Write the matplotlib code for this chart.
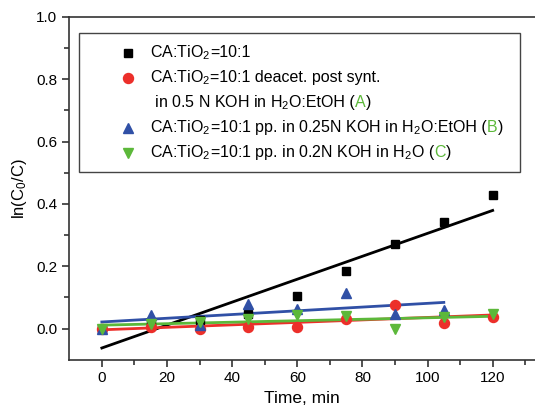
import matplotlib
matplotlib.use("Agg")
import matplotlib.pyplot as plt
import numpy as np
from matplotlib.lines import Line2D
from matplotlib.offsetbox import AnchoredOffsetbox, DrawingArea, HPacker, TextArea, VPacker

plt.rcParams["font.family"] = ["Liberation Sans", "DejaVu Sans"]
plt.rcParams["mathtext.fontset"] = "custom"
plt.rcParams["mathtext.rm"] = "Liberation Sans"
plt.rcParams["mathtext.it"] = "Liberation Sans:italic"
plt.rcParams["mathtext.default"] = "rm"

# data
time_min = [0, 15, 30, 45, 60, 75, 90, 105, 120]
ln_ref = [0.0, 0.02, 0.026, 0.048, 0.103, 0.185, 0.27, 0.342, 0.43]
ln_deacet = [0.0, 0.006, -0.001, 0.006, 0.006, 0.03, 0.077, 0.017, 0.036]
time_b = [0, 15, 30, 45, 60, 75, 90, 105]
ln_pp_b = [0.0, 0.042, 0.01, 0.08, 0.064, 0.114, 0.048, 0.061]
ln_pp_c = [0.0, 0.013, 0.02, 0.032, 0.042, 0.039, -0.003, 0.037, 0.045]

BLACK = "black"
RED = "#ec2f2a"
BLUE = "#3050a6"
GREEN = "#5cb83a"
FS = 11.5
MS = {"s": 6.3, "o": 7.2, "^": 7.5, "v": 7.5}

series = [
    (time_min, ln_ref, "s", BLACK),
    (time_min, ln_deacet, "o", RED),
    (time_b, ln_pp_b, "^", BLUE),
    (time_min, ln_pp_c, "v", GREEN),
]

fig = plt.figure(figsize=(5.35, 4.12), dpi=100)
ax = fig.add_axes([0.1295, 0.127, 0.8705, 0.832])

for x, y, marker, color in series:
    x = np.asarray(x, dtype=float)
    y = np.asarray(y, dtype=float)
    ax.plot(x, y, marker, color=color, ms=MS[marker], mec=color, mfc=color, zorder=3)
    slope, intercept = np.polyfit(x, y, 1)
    ax.plot([x[0], x[-1]], [intercept + slope * x[0], intercept + slope * x[-1]],
            "-", color=color, lw=2.0, zorder=2)

ax.set_xlim(-10, 133)
ax.set_ylim(-0.1, 1.0)
ax.set_xticks(np.arange(0, 121, 20))
ax.set_xticks(np.arange(10, 131, 20), minor=True)
ax.set_yticks(np.arange(0, 1.01, 0.2))
ax.set_yticks(np.arange(0.1, 1.0, 0.2), minor=True)
ax.set_yticklabels([f"{v:.1f}" for v in np.arange(0, 1.01, 0.2)])
ax.spines["right"].set_visible(False)
for s in ["left", "bottom", "top"]:
    ax.spines[s].set_linewidth(1.2)
    ax.spines[s].set_color("#333333")
ax.tick_params(which="major", direction="out", length=5, width=1.2,
               labelsize=11, color="#333333")
ax.tick_params(which="minor", direction="out", length=3.5, width=1.2, color="#333333")
ax.tick_params(top=False, right=False)
ax.set_xlabel("Time, min", fontsize=12.5, labelpad=4)
ax.set_ylabel("ln(C$_0$/C)", fontsize=12, labelpad=5)

# custom legend with coloured sample letters
legend_rows = [
    ("s", BLACK, [("CA:TiO$_2$", BLACK), ("=10:1", BLACK)]),
    ("o", RED, [("CA:TiO$_2$", BLACK), ("=10:1 deacet. post synt.", BLACK)]),
    (None, None, [(" in 0.5 N KOH in H$_2$", BLACK), ("O:EtOH (", BLACK),
                  ("A", GREEN), (")", BLACK)]),
    ("^", BLUE, [("CA:TiO$_2$", BLACK), ("=10:1 pp. in 0.25N KOH in H$_2$", BLACK),
                 ("O:EtOH (", BLACK), ("B", GREEN), (")", BLACK)]),
    ("v", GREEN, [("CA:TiO$_2$", BLACK), ("=10:1 pp. in 0.2N KOH in H$_2$", BLACK),
                  ("O (", BLACK), ("C", GREEN), (")", BLACK)]),
]

px = 72.0 / fig.dpi
pad_px = 7
key_w = (71 - pad_px) * px
key_h = 25 * px
rows = []
for marker, color, parts in legend_rows:
    key = DrawingArea(key_w, key_h, 0, 0)
    if marker is not None:
        key.add_artist(Line2D([(49 - pad_px) * px], [key_h / 2], marker=marker,
                              color=color, ms=MS[marker], ls=""))
    children = [TextArea(s, textprops=dict(color=c, fontsize=FS)) for s, c in parts]
    texts = HPacker(children=children, align="baseline", pad=0, sep=0)
    row = [key, texts, DrawingArea(10 * px, key_h, 0, 0)]
    rows.append(HPacker(children=row, align="center", pad=0, sep=0))

box = VPacker(children=rows, align="left", pad=pad_px * px, sep=0)
anchored = AnchoredOffsetbox(loc="upper left", child=box, pad=0, borderpad=0,
                             frameon=True, bbox_to_anchor=(79 / 535, 1 - 33 / 412),
                             bbox_transform=fig.transFigure)
anchored.patch.set_edgecolor("#444444")
anchored.patch.set_linewidth(1.0)
ax.add_artist(anchored)

fig.savefig("out.png", dpi=100)
